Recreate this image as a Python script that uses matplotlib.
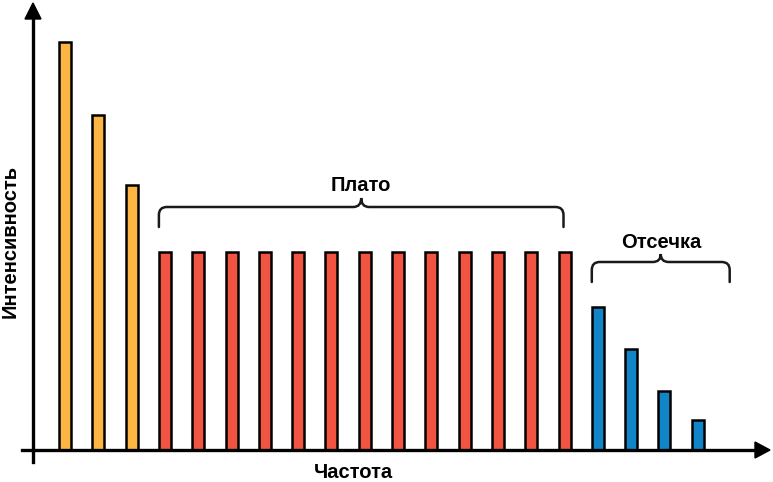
import numpy as np
import matplotlib.pyplot as plt
from matplotlib.path import Path
from matplotlib.patches import PathPatch, Polygon

plt.rcParams['font.family'] = ['Liberation Sans', 'DejaVu Sans']

# bar heights (plateau level = 100)
harmonics_low = [206, 169, 134]
plateau = [100] * 13
cutoff = [72, 51, 30, 15]

colors = ['#FDB643'] * len(harmonics_low) + ['#F15541'] * len(plateau) + ['#1185C8'] * len(cutoff)
heights = harmonics_low + plateau + cutoff
xpos = np.arange(len(heights))

label_plateau = 'Плато'
label_cutoff = 'Отсечка'
label_x = 'Частота'
label_y = 'Интенсивность'

W, H = 773, 482
fig = plt.figure(figsize=(W / 100, H / 100), dpi=100)
ax = fig.add_axes([33 / W, 32 / H, (770 - 33) / W, (450 - 3) / H])

px_x = 1 / 33.3          # data units per pixel horizontally
px_y = 100 / 198         # data units per pixel vertically
ax.set_xlim(-32 * px_x, 705 * px_x)
ax.set_ylim(0, 447 * px_y)

ax.bar(xpos, heights, width=12 * px_x, color=colors, edgecolor='black', linewidth=1.8, zorder=3)

for s in ax.spines.values():
    s.set_visible(False)
ax.set_xticks([])
ax.set_yticks([])

# axes lines with arrow heads
x0, x1 = ax.get_xlim()
y0, y1 = ax.get_ylim()
ax.plot([x0 - 11 * px_x, x1 - 12 * px_x], [0, 0], color='black', lw=2.4, clip_on=False, zorder=4)
ax.plot([x0, x0], [-12 * px_y, y1 - 12 * px_y], color='black', lw=2.4, clip_on=False, zorder=4)
ax.add_patch(Polygon([[x1, 0], [x1 - 15 * px_x, 8 * px_y], [x1 - 15 * px_x, -8 * px_y]],
                     closed=True, color='black', clip_on=False, zorder=4))
ax.add_patch(Polygon([[x0, y1], [x0 - 8 * px_x, y1 - 16 * px_y], [x0 + 8 * px_x, y1 - 16 * px_y]],
                     closed=True, color='black', clip_on=False, zorder=4))


def brace(xa, xb, ybot, yline, ytip, r=8):
    rx, ry = r * px_x, r * px_y
    xm = (xa + xb) / 2
    tx = 8 * px_x
    verts = [(xa, ybot), (xa, yline - ry),
             (xa, yline), (xa + rx, yline),
             (xm - tx, yline),
             (xm, yline), (xm, ytip),
             (xm, yline), (xm + tx, yline),
             (xb - rx, yline),
             (xb, yline), (xb, yline - ry),
             (xb, ybot)]
    codes = [Path.MOVETO, Path.LINETO,
             Path.CURVE3, Path.CURVE3,
             Path.LINETO,
             Path.CURVE3, Path.CURVE3,
             Path.CURVE3, Path.CURVE3,
             Path.LINETO,
             Path.CURVE3, Path.CURVE3,
             Path.LINETO]
    ax.add_patch(PathPatch(Path(verts, codes), fill=False, lw=1.8, edgecolor='#1a1a1a',
                           clip_on=False, zorder=4, capstyle='round'))
    return xm


bw = 6 * px_x
xm = brace(xpos[3] - bw, xpos[15] - bw / 6, (450 - 227) * px_y, (450 - 207) * px_y, (450 - 198) * px_y)
ax.text(xm, (450 - 185) * px_y, label_plateau, ha='center', va='center', fontsize=14.5, fontweight='bold')
xm = brace(xpos[16] - bw, xpos[19] + 32 * px_x, (450 - 282) * px_y, (450 - 262) * px_y, (450 - 254) * px_y)
ax.text(xm, (450 - 242) * px_y, label_cutoff, ha='center', va='center', fontsize=14.5, fontweight='bold')

fig.text(353 / W, 1 - 472 / H, label_x, ha='center', va='center', fontsize=14.5, fontweight='bold')
fig.text(10 / W, 1 - 241 / H, label_y, ha='center', va='center', rotation=90, fontsize=14.5, fontweight='bold')

fig.savefig('out.png', dpi=100)
